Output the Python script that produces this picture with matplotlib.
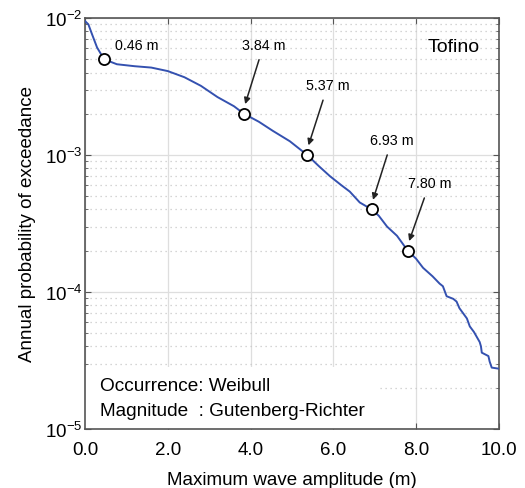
import matplotlib.pyplot as plt
import numpy as np
from matplotlib.patches import Rectangle

plt.rcParams['font.family'] = ['Liberation Sans', 'DejaVu Sans']

# hazard curve (tail is stepped)
amp = [0.0, 0.08, 0.17, 0.29, 0.46, 0.77, 1.2, 1.6, 2.0, 2.4, 2.8, 3.2, 3.6, 3.84,
       4.2, 4.54, 4.95, 5.37, 5.65, 5.92, 6.2, 6.4, 6.64, 6.93, 7.1, 7.3, 7.54, 7.8,
       8.0, 8.17, 8.4, 8.57, 8.65, 8.74, 8.9, 8.98, 9.05, 9.23, 9.3, 9.4, 9.54,
       9.57, 9.59, 9.75, 9.78, 9.83, 10.0]
prob = [9.5e-3, 9.0e-3, 7.6e-3, 6.1e-3, 5.0e-3, 4.6e-3, 4.45e-3, 4.35e-3, 4.1e-3, 3.7e-3,
        3.2e-3, 2.65e-3, 2.27e-3, 2.0e-3, 1.75e-3, 1.5e-3, 1.26e-3, 1.0e-3, 8.3e-4,
        7.0e-4, 6.0e-4, 5.4e-4, 4.5e-4, 4.0e-4, 3.6e-4, 3.0e-4, 2.57e-4, 2.0e-4,
        1.75e-4, 1.5e-4, 1.3e-4, 1.15e-4, 1.1e-4, 9.3e-5, 8.9e-5, 8.5e-5, 7.6e-5,
        6.4e-5, 5.6e-5, 5.1e-5, 4.3e-5, 4.0e-5, 3.6e-5, 3.4e-5, 3.1e-5, 2.8e-5, 2.75e-5]

mark_amp = [0.46, 3.84, 5.37, 6.93, 7.80]
mark_prob = [5e-3, 2e-3, 1e-3, 4e-4, 2e-4]
mark_text = ['0.46 m', '3.84 m', '5.37 m', '6.93 m', '7.80 m']
text_pos = [(1.26, 6.4e-3), (4.32, 6.4e-3), (5.87, 3.24e-3), (7.42, 1.29e-3), (8.33, 6.25e-4)]

fig = plt.figure(figsize=(5.25, 4.89), dpi=100)
ax = fig.add_axes([0.162, 0.121, 0.788, 0.840])

ax.set_yscale('log')
ax.set_xlim(0, 10)
ax.set_ylim(1e-5, 1e-2)
ax.set_axisbelow(True)
ax.grid(True, which='major', color='#dedede', lw=0.9, ls='-')
ax.grid(True, which='minor', axis='y', color='#c8c8c8', lw=0.9, ls=(0, (1, 3)))

ax.add_patch(Rectangle((0, 0), 0.708, 0.151, transform=ax.transAxes,
                       facecolor='white', edgecolor='none', zorder=1))

ax.plot(amp, prob, color='#3451b0', lw=1.4, zorder=3)
ax.plot(mark_amp, mark_prob, 'o', ms=8, mfc='white', mec='black', mew=1.3, zorder=5)

for i, (t, (tx, ty)) in enumerate(zip(mark_text, text_pos)):
    if i == 0:
        ax.text(tx, ty, t, ha='center', va='center', fontsize=10.3, zorder=6)
    else:
        ax.annotate(t, xy=(mark_amp[i], mark_prob[i] * 1.1), xytext=(tx, ty),
                    ha='center', va='center', fontsize=10.3, zorder=6,
                    arrowprops=dict(arrowstyle='-|>', color='#222222', lw=1.1,
                                    shrinkA=4, shrinkB=3, mutation_scale=9))

ax.text(0.955, 0.93, 'Tofino', transform=ax.transAxes, ha='right', va='center', fontsize=14)
ax.text(0.035, 0.105, 'Occurrence: Weibull', transform=ax.transAxes, ha='left',
        va='center', fontsize=13.7, zorder=6)
ax.text(0.035, 0.045, 'Magnitude  : Gutenberg-Richter', transform=ax.transAxes,
        ha='left', va='center', fontsize=13.7, zorder=6)

ax.set_xticks(np.arange(0, 10.1, 2))
ax.set_xticklabels(['%.1f' % v for v in np.arange(0, 10.1, 2)])
ax.set_yticks([1e-5, 1e-4, 1e-3, 1e-2])
ax.set_yticklabels([r'$\mathregular{10^{-5}}$', r'$\mathregular{10^{-4}}$',
                    r'$\mathregular{10^{-3}}$', r'$\mathregular{10^{-2}}$'])
ax.tick_params(which='both', direction='in', top=True, right=True, color='#555555')
ax.tick_params(which='major', length=4, labelsize=13.5, pad=9)
ax.tick_params(which='minor', length=2.5)
ax.tick_params(axis='y', which='major', pad=2)
for s in ax.spines.values():
    s.set_color('#555555')
    s.set_linewidth(1.2)

ax.set_xlabel('Maximum wave amplitude (m)', fontsize=13.5, labelpad=9)
ax.set_ylabel('Annual probability of exceedance', fontsize=13.5, labelpad=6)

fig.savefig('out.png', dpi=100)
